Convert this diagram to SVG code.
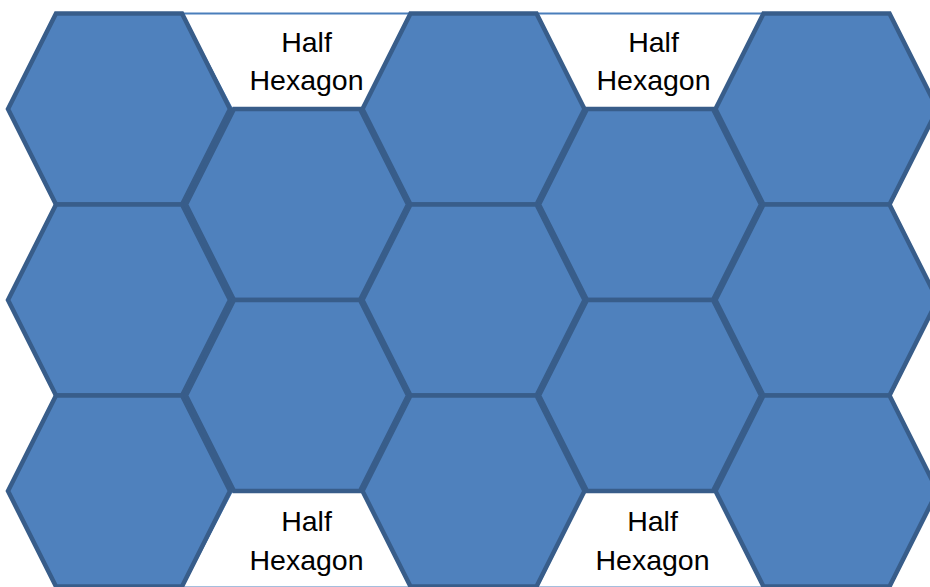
<svg xmlns="http://www.w3.org/2000/svg" xmlns:xlink="http://www.w3.org/1999/xlink" width="930" height="587" viewBox="0 0 930 587">
  <defs>
    <style>
      .hex { fill: #4f81bd; stroke: #385d8a; stroke-width: 4.5; stroke-linejoin: miter; }
      .half { fill: #ffffff; stroke: #4a7ebb; stroke-width: 2; }
      .lbl { font-family: "Liberation Sans", Arial, sans-serif; font-size: 28.5px; fill: #000000; text-anchor: middle; }
    </style>
    <polygon id="hexShape" points="-111,0 -63,-95.5 63,-95.5 111,0 63,95.5 -63,95.5"/>
  </defs>
  <rect width="930" height="587" fill="#ffffff"/>

  <g id="connectors"></g>

  <!-- half hexagons -->
  <g id="half-top-1">
    <polygon class="half" points="182,13.5 410.5,13.5 362,109 232,109"/>
    <text class="lbl" x="306.5" y="51.5">Half</text>
    <text class="lbl" x="306.5" y="89.5">Hexagon</text>
  </g>
  <g id="half-top-3">
    <polygon class="half" points="537,13.5 763.5,13.5 715,109 585,109"/>
    <text class="lbl" x="653.5" y="52">Half</text>
    <text class="lbl" x="653.5" y="90">Hexagon</text>
  </g>
  <g id="half-bottom-1">
    <polygon class="half" points="232,491 362,491 410.5,587.5 182,587.5"/>
    <text class="lbl" x="306.5" y="531">Half</text>
    <text class="lbl" x="306.5" y="570">Hexagon</text>
  </g>
  <g id="half-bottom-3">
    <polygon class="half" points="585,491 715,491 763.5,587.5 537,587.5"/>
    <text class="lbl" x="652.5" y="531">Half</text>
    <text class="lbl" x="652.5" y="570">Hexagon</text>
  </g>

  <!-- column 0 -->
  <g id="hex-0-0"><use xlink:href="#hexShape" href="#hexShape" class="hex" transform="translate(119,109)"/></g>
  <g id="hex-0-1"><use xlink:href="#hexShape" href="#hexShape" class="hex" transform="translate(119,300)"/></g>
  <g id="hex-0-2"><use xlink:href="#hexShape" href="#hexShape" class="hex" transform="translate(119,491)"/></g>
  <!-- column 1 -->
  <g id="hex-1-0"><use xlink:href="#hexShape" href="#hexShape" class="hex" transform="translate(297,204.5)"/></g>
  <g id="hex-1-1"><use xlink:href="#hexShape" href="#hexShape" class="hex" transform="translate(297,395.5)"/></g>
  <!-- column 2 -->
  <g id="hex-2-0"><use xlink:href="#hexShape" href="#hexShape" class="hex" transform="translate(473.5,109)"/></g>
  <g id="hex-2-1"><use xlink:href="#hexShape" href="#hexShape" class="hex" transform="translate(473.5,300)"/></g>
  <g id="hex-2-2"><use xlink:href="#hexShape" href="#hexShape" class="hex" transform="translate(473.5,491)"/></g>
  <!-- column 3 -->
  <g id="hex-3-0"><use xlink:href="#hexShape" href="#hexShape" class="hex" transform="translate(650,204.5)"/></g>
  <g id="hex-3-1"><use xlink:href="#hexShape" href="#hexShape" class="hex" transform="translate(650,395.5)"/></g>
  <!-- column 4 -->
  <g id="hex-4-0"><use xlink:href="#hexShape" href="#hexShape" class="hex" transform="translate(826.5,109)"/></g>
  <g id="hex-4-1"><use xlink:href="#hexShape" href="#hexShape" class="hex" transform="translate(826.5,300)"/></g>
  <g id="hex-4-2"><use xlink:href="#hexShape" href="#hexShape" class="hex" transform="translate(826.5,491)"/></g>
</svg>
